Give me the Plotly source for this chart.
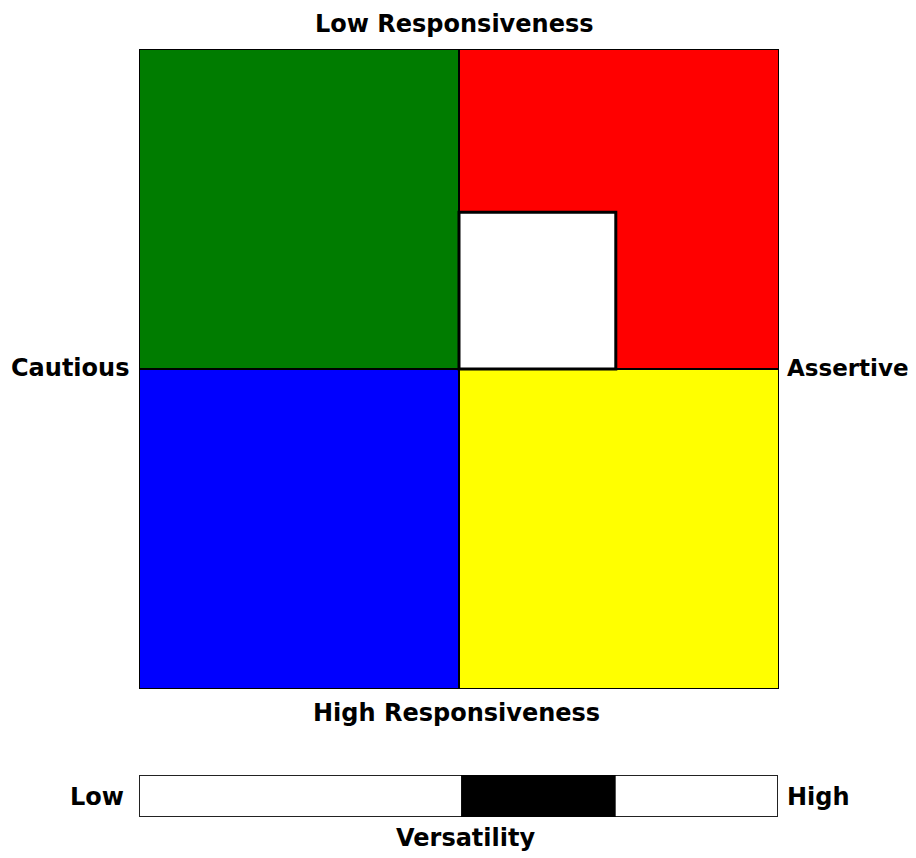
import plotly.graph_objects as go

# Data
quadrant_names = ["Analytical", "Driver", "Amiable", "Expressive"]
quadrant_x0 = [0, 50, 0, 50]
quadrant_x1 = [50, 100, 50, 100]
quadrant_y0 = [50, 50, 0, 0]
quadrant_y1 = [100, 100, 50, 50]
quadrant_colors = ["#007c00", "#ff0000", "#0000ff", "#ffff00"]

style_x = [50, 74.5]   # assertiveness range
style_y = [50, 74.5]   # responsiveness range (up = low responsiveness)

versatility = [50.4, 74.6]   # on a 0-100 scale

OFF = 8  # page body margin
W, H = 916 - OFF, 858 - OFF
FONT = dict(family="DejaVu Sans", size=24, color="black")

fig = go.Figure()

# invisible traces to establish axes
fig.add_trace(go.Scatter(x=[0, 100], y=[0, 100], mode="markers",
                         marker=dict(opacity=0), hoverinfo="skip",
                         showlegend=False, xaxis="x", yaxis="y"))
fig.add_trace(go.Scatter(x=[0, 100], y=[0, 1], mode="markers",
                         marker=dict(opacity=0), hoverinfo="skip",
                         showlegend=False, xaxis="x2", yaxis="y2"))

shapes = []
for x0, x1, y0, y1, c in zip(quadrant_x0, quadrant_x1, quadrant_y0, quadrant_y1, quadrant_colors):
    shapes.append(dict(type="rect", xref="x", yref="y", x0=x0, x1=x1, y0=y0, y1=y1,
                       fillcolor=c, line=dict(color="black", width=2), layer="below"))
shapes.append(dict(type="rect", xref="x", yref="y", x0=style_x[0], x1=style_x[1],
                   y0=style_y[0], y1=style_y[1], fillcolor="white",
                   line=dict(color="black", width=3)))
# versatility bar
shapes.append(dict(type="rect", xref="x2", yref="y2", x0=0, x1=100, y0=0, y1=1,
                   fillcolor="white", line=dict(color="#222222", width=2), layer="below"))
shapes.append(dict(type="rect", xref="x2", yref="y2", x0=versatility[0], x1=versatility[1],
                   y0=0, y1=1, fillcolor="black", line=dict(color="black", width=0)))

def px(x):
    return (x - OFF) / W

def py(y):
    return 1 - (y - OFF) / H

annotations = [
    dict(text="<b>Low Responsiveness</b>", x=px(454), y=py(24), xanchor="center", yanchor="middle"),
    dict(text="<b>High Responsiveness</b>", x=px(456), y=py(713), xanchor="center", yanchor="middle"),
    dict(text="<b>Cautious</b>", x=px(70), y=py(368), xanchor="center", yanchor="middle"),
    dict(text="<b>Assertive</b>", x=px(848), y=py(368), xanchor="center", yanchor="middle", size=23),
    dict(text="<b>Low</b>", x=px(97), y=py(797), xanchor="center", yanchor="middle"),
    dict(text="<b>High</b>", x=px(818), y=py(797), xanchor="center", yanchor="middle"),
    dict(text="<b>Versatility</b>", x=px(465), y=py(838), xanchor="center", yanchor="middle"),
]
for a in annotations:
    size = a.pop("size", 24)
    a.update(xref="paper", yref="paper", showarrow=False, font=dict(FONT, size=size))

axis_common = dict(showgrid=False, zeroline=False, showticklabels=False,
                   ticks="", showline=False, fixedrange=True)

fig.update_layout(
    width=W, height=H, autosize=False,
    margin=dict(l=0, r=0, t=0, b=0),
    paper_bgcolor="white", plot_bgcolor="white",
    xaxis=dict(domain=[px(139), px(779)], range=[0, 100], **axis_common),
    yaxis=dict(domain=[py(689), py(49)], range=[0, 100], **axis_common),
    xaxis2=dict(domain=[px(139), px(778)], range=[0, 100], anchor="y2", **axis_common),
    yaxis2=dict(domain=[py(817), py(775)], range=[0, 1], anchor="x2", **axis_common),
    shapes=shapes,
    annotations=annotations,
    showlegend=False,
)

fig.write_html("out.html")
